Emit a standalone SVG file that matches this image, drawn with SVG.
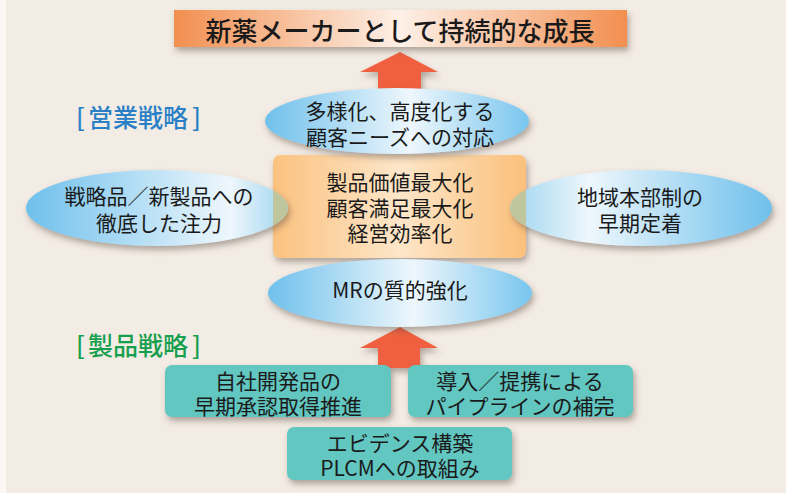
<svg xmlns="http://www.w3.org/2000/svg" width="786" height="493" viewBox="0 0 786 493">
  <defs>
    <style>
      .t { font-family: "Noto Sans CJK JP", "Noto Sans", "Liberation Sans", sans-serif; fill: #1a1a1a; text-anchor: middle; dominant-baseline: central; }
      .f21 { font-size: 21px; }
      .title { font-size: 26px; font-weight: 500; }
      .lab { font-size: 25px; font-weight: 500; font-family: "Noto Sans CJK JP", "Liberation Sans", sans-serif; dominant-baseline: central; }
      .box { fill: #62c6c1; }
      .arrow { fill: #f0603f; }
    </style>
    <filter id="sh" x="-20%" y="-30%" width="140%" height="170%">
      <feDropShadow dx="2" dy="4" stdDeviation="3" flood-color="#5a4a40" flood-opacity="0.45"/>
    </filter>
    <linearGradient id="gTitle" x1="0" y1="0" x2="1" y2="0">
      <stop offset="0" stop-color="#f28f50"/>
      <stop offset="0.5" stop-color="#fdf0e7"/>
      <stop offset="1" stop-color="#f28f50"/>
    </linearGradient>
    <linearGradient id="gRect" x1="0" y1="0" x2="1" y2="0">
      <stop offset="0" stop-color="#fbc27f"/>
      <stop offset="0.5" stop-color="#fde6c9"/>
      <stop offset="1" stop-color="#fac07b"/>
    </linearGradient>
    <linearGradient id="gBlue" x1="0" y1="0" x2="1" y2="0">
      <stop offset="0" stop-color="#6fc0ec"/>
      <stop offset="0.55" stop-color="#eef7fc"/>
      <stop offset="1" stop-color="#78c5ee"/>
    </linearGradient>
    <linearGradient id="gBlueL" x1="0" y1="0" x2="1" y2="0">
      <stop offset="0" stop-color="#6fc0ec"/>
      <stop offset="0.78" stop-color="#eef7fc"/>
      <stop offset="1" stop-color="#9fd4f0"/>
    </linearGradient>
    <linearGradient id="gBlueR" x1="0" y1="0" x2="1" y2="0">
      <stop offset="0" stop-color="#9fd4f0"/>
      <stop offset="0.3" stop-color="#eef7fc"/>
      <stop offset="1" stop-color="#6fc0ec"/>
    </linearGradient>
    <clipPath id="rectClip">
      <rect x="273" y="155" width="253" height="103" rx="7"/>
    </clipPath>
  </defs>

  <!-- background -->
  <rect x="0" y="0" width="786" height="493" fill="#f3ece4"/>
  <rect x="0" y="0" width="6" height="493" fill="#faf7f4"/>

  <!-- connectors (arrows) -->
  <g id="connectors">
    <polygon class="arrow" filter="url(#sh)" points="400,52 438,72 421,72 421,92 378,92 378,72 360,72"/>
    <polygon class="arrow" filter="url(#sh)" points="400,327 438,348 420,348 420,368 378,368 378,348 360,348"/>
  </g>

  <!-- title -->
  <g id="title">
    <rect x="174" y="10" width="453" height="37" fill="url(#gTitle)" filter="url(#sh)"/>
    <text class="t title" x="400" y="29">新薬メーカーとして持続的な成長</text>
  </g>

  <!-- labels -->
  <g id="label-sales">
    <text class="lab" x="76" y="116" fill="#2a80c6">[<tspan x="88">営業戦略</tspan><tspan x="192">]</tspan></text>
  </g>
  <g id="label-product">
    <text class="lab" x="76" y="344" fill="#16a04e">[<tspan x="88">製品戦略</tspan><tspan x="192">]</tspan></text>
  </g>

  <!-- center rect -->
  <g id="center">
    <rect x="273" y="155" width="253" height="103" rx="7" fill="url(#gRect)" filter="url(#sh)"/>
  </g>

  <!-- ellipses -->
  <g id="top-ellipse">
    <ellipse cx="397" cy="121" rx="132" ry="33" fill="url(#gBlue)" filter="url(#sh)"/>
  </g>
  <g id="left-ellipse">
    <ellipse cx="157" cy="208" rx="131" ry="38" fill="url(#gBlueL)" filter="url(#sh)"/>
  </g>
  <g id="right-ellipse">
    <ellipse cx="641" cy="208" rx="131" ry="38" fill="url(#gBlueR)" filter="url(#sh)"/>
  </g>
  <g id="mr-ellipse">
    <ellipse cx="400" cy="293" rx="132" ry="34" fill="url(#gBlue)" filter="url(#sh)"/>
  </g>

  <!-- overlaps -->
  <g clip-path="url(#rectClip)" fill="#bfc59d">
    <ellipse cx="397" cy="121" rx="132" ry="33"/>
    <ellipse cx="157" cy="208" rx="131" ry="38"/>
    <ellipse cx="641" cy="208" rx="131" ry="38"/>
    <ellipse cx="400" cy="293" rx="132" ry="34"/>
  </g>

  <!-- texts of ellipses and center -->
  <text class="t f21" x="400" y="110">多様化、高度化する</text>
  <text class="t f21" x="400" y="136">顧客ニーズへの対応</text>
  <text class="t f21" x="159" y="195">戦略品／新製品への</text>
  <text class="t f21" x="159" y="222">徹底した注力</text>
  <text class="t f21" x="640" y="196">地域本部制の</text>
  <text class="t f21" x="640" y="222">早期定着</text>
  <text class="t f21" x="400" y="181">製品価値最大化</text>
  <text class="t f21" x="400" y="207">顧客満足最大化</text>
  <text class="t f21" x="400" y="232">経営効率化</text>
  <text class="t f21" x="400" y="289">MRの質的強化</text>

  <!-- product boxes -->
  <g id="box-inhouse">
    <rect class="box" x="165" y="365" width="226" height="52" rx="7" filter="url(#sh)"/>
    <text class="t f21" x="278" y="380">自社開発品の</text>
    <text class="t f21" x="278" y="405">早期承認取得推進</text>
  </g>
  <g id="box-licensing">
    <rect class="box" x="408" y="365" width="225" height="52" rx="7" filter="url(#sh)"/>
    <text class="t f21" x="520" y="380">導入／提携による</text>
    <text class="t f21" x="520" y="405">パイプラインの補完</text>
  </g>
  <g id="box-evidence">
    <rect class="box" x="287" y="427" width="225" height="53" rx="7" filter="url(#sh)"/>
    <text class="t f21" x="400" y="442">エビデンス構築</text>
    <text class="t f21" x="400" y="467">PLCMへの取組み</text>
  </g>
</svg>
